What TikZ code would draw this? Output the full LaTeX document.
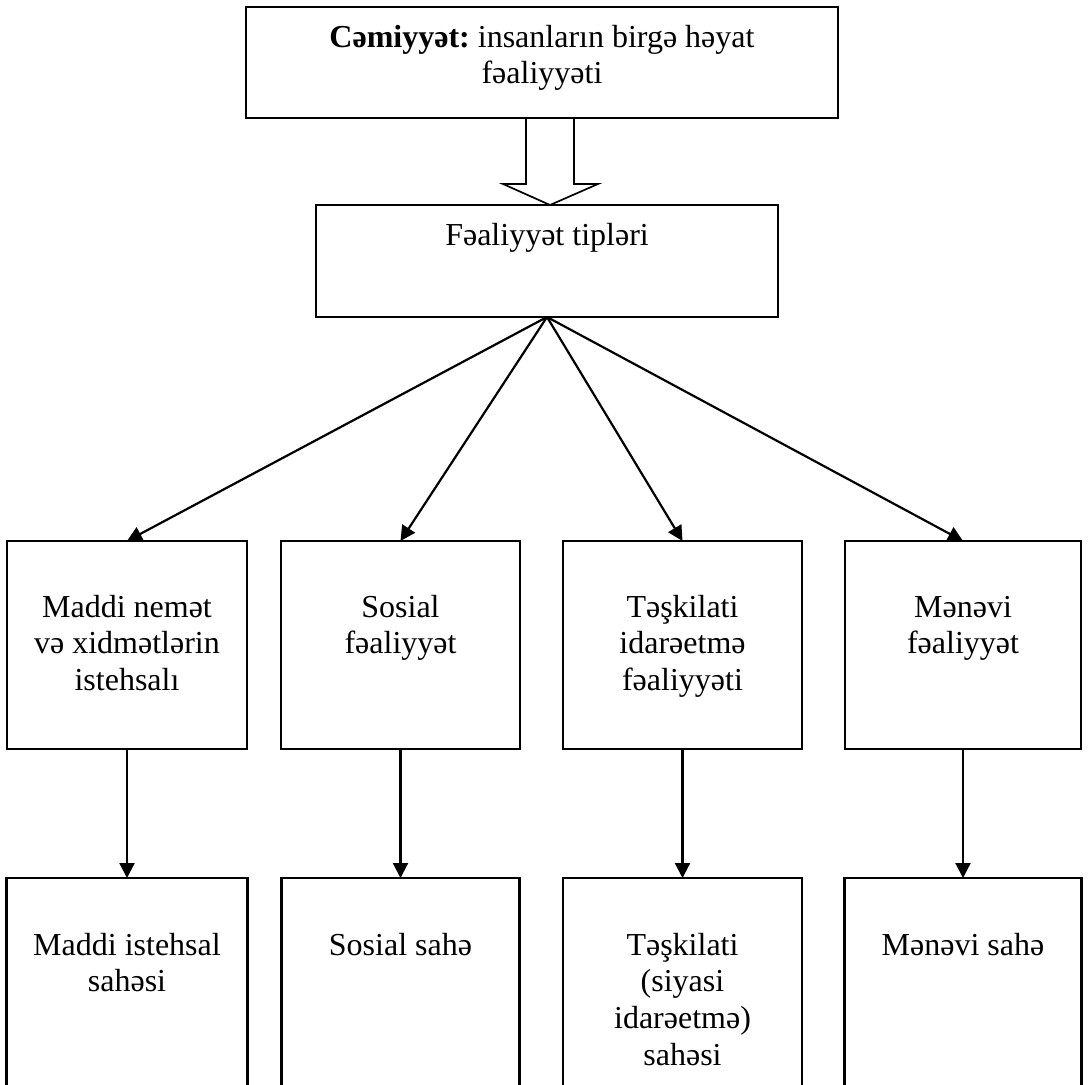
\documentclass[tikz,border=0pt]{standalone}
\usepackage{fontspec}
\setmainfont{Liberation Serif}
\usetikzlibrary{arrows.meta,calc}
\frenchspacing
\begin{document}
\begin{tikzpicture}[x=1pt,y=-1pt,
  box/.style={draw, line width=2.2pt, inner sep=0pt, outer sep=0pt},
  txt/.style={font=\fontsize{32}{36.8}\selectfont, align=center, inner sep=0pt, anchor=base},
  arr/.style={line width=2.2pt, -{Triangle[length=15pt,width=15pt]}},
  hollow/.style={line width=1.7pt, line join=miter}]
\clip (0,0) rectangle (1089,1084);
\useasboundingbox (0,0) rectangle (1089,1084);
% boxes
\node[box, minimum width=592pt, minimum height=111pt] (top) at (542,62.5) {};
\node[box, minimum width=462pt, minimum height=112pt] (tip) at (547,261) {};
\node[box, minimum width=240pt, minimum height=208pt] (b1) at (127,645) {};
\node[box, minimum width=239pt, minimum height=208pt] (b2) at (400.5,645) {};
\node[box, minimum width=239pt, minimum height=208pt] (b3) at (682.5,645) {};
\node[box, minimum width=236pt, minimum height=208pt] (b4) at (963,645) {};
\node[box, minimum width=241pt, minimum height=242pt] (c1) at (127,999) {};
\node[box, minimum width=238pt, minimum height=242pt] (c2) at (400.5,999) {};
\node[box, minimum width=239pt, minimum height=242pt] (c3) at (682.5,999) {};
\node[box, minimum width=237pt, minimum height=242pt] (c4) at (963,999) {};
% texts (anchor = baseline of the last line)
\node[txt] (ttop) at (542,83.8) {\textbf{Cəmiyyət:} insanların birgə həyat\\fəaliyyəti};
\node[txt] (ttip) at (547,245) {Fəaliyyət tipləri};
\node[txt] (tb1) at (127,690.6) {Maddi nemət\\və xidmətlərin\\istehsalı};
\node[txt] (tb2) at (400.5,653.8) {Sosial\\fəaliyyət};
\node[txt] (tb3) at (682.5,690.6) {Təşkilati\\idarəetmə\\fəaliyyəti};
\node[txt] (tb4) at (963,653.8) {Mənəvi\\fəaliyyət};
\node[txt] (tc1) at (127,991.8) {Maddi istehsal\\sahəsi};
\node[txt] (tc2) at (400.5,955) {Sosial sahə};
\node[txt] (tc3) at (682.5,1065.4) {Təşkilati\\(siyasi\\idarəetmə)\\sahəsi};
\node[txt] (tc4) at (963,955) {Mənəvi sahə};
% hollow block arrow
\draw[hollow] (526,118) -- (526,184) -- (503,184) -- (550,205) -- (598,184) -- (574,184) -- (574,118);
% fan arrows
\draw[arr] (tip.south) -- (b1.north);
\draw[arr] (tip.south) -- (b2.north);
\draw[arr] (tip.south) -- (b3.north);
\draw[arr] (tip.south) -- (b4.north);
% vertical arrows
\draw[arr] (b1.south) -- (c1.north);
\draw[arr] (b2.south) -- (c2.north);
\draw[arr] (b3.south) -- (c3.north);
\draw[arr] (b4.south) -- (c4.north);
\end{tikzpicture}
\end{document}
